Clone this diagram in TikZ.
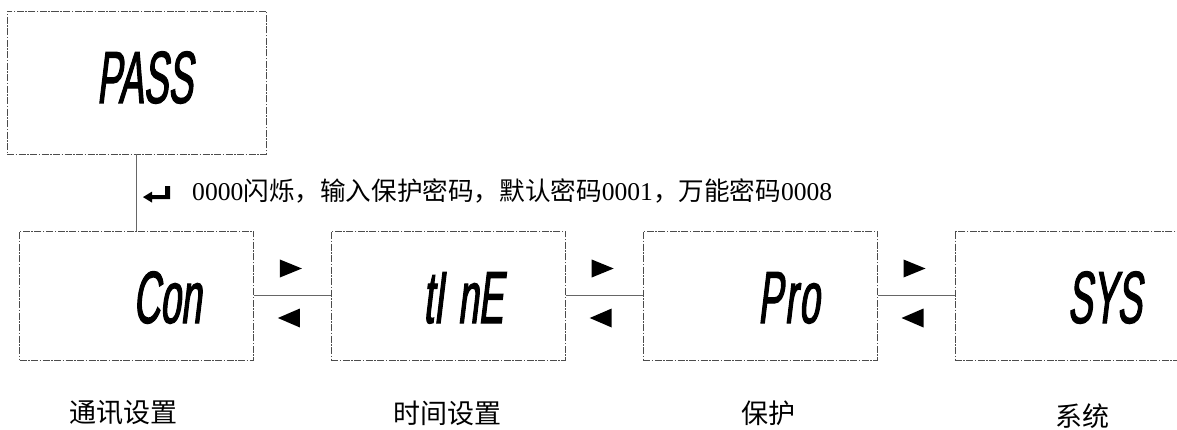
\documentclass[tikz,border=0pt]{standalone}
\usepackage{fontspec}
\setmainfont{Liberation Serif}
\newfontfamily\cjk{Noto Sans CJK SC}
\newfontfamily\segfont{Liberation Sans}[FakeStretch=0.5,FakeSlant=0.12,FakeBold=1.5]
\usetikzlibrary{positioning}

\begin{document}
\begin{tikzpicture}[x=1pt,y=-1pt,node distance=77pt,
    menu box/.style={draw=black!70,line width=0.8pt,
      dash pattern=on 7pt off 1.5pt on 1.5pt off 1.5pt,
      minimum width=234pt,minimum height=129pt,inner sep=0pt},
    seg text/.style={font=\segfont\fontsize{74}{74}\selectfont,
      inner sep=0pt,anchor=base west},
    menu label/.style={font=\cjk\fontsize{27}{27}\selectfont,inner sep=0pt},
    link/.style={draw=black!60,line width=1pt}]
  \useasboundingbox (0,0) rectangle (1177,430);

  \node[menu box,minimum width=259pt,minimum height=143pt] (pass) at (136.5,82.5) {};
  \node[menu box] (con) at (136.5,295.5) {};
  \node[menu box] (tim) [right=of con] {};
  \node[menu box] (pro) [right=of tim] {};
  \node[menu box] (sys) [right=of pro] {};

  % display texts
  \node[seg text] (passtxt) at ([shift={(90,20.5)}]pass.west) {PASS};
  \node[seg text] (contxt) at ([shift={(114,27.5)}]con.west) {Con};
  \node[seg text] (timtxt) at ([shift={(92,27.5)}]tim.west) {tI\kern14pt nE};
  \node[seg text] (protxt) at ([shift={(115,27.5)}]pro.west) {P\kern2pt r\kern2pt o};
  \node[seg text] (systxt) at ([shift={(113,27.5)}]sys.west) {SYS};

  % menu names
  \node[menu label] (conlab) at ([shift={(-13.5,52)}]con.south) {通讯设置};
  \node[menu label] (timlab) at ([shift={(-1,53)}]tim.south) {时间设置};
  \node[menu label] (prolab) at ([shift={(8,53)}]pro.south) {保护};
  \node[menu label] (syslab) at ([shift={(11,56)}]sys.south) {系统};

  % password entry
  \draw[link] (pass) -- (con);
  \node[inner sep=0pt,anchor=west,font=\fontsize{25.6}{26}\selectfont] (pwnote)
    at ([shift={(55.5,-40)}]con.north)
    {0000{\cjk 闪烁，输入保护密码，默认密码}0001{\cjk ，万能密码}0008};
  \fill ([shift={(-49,6.5)}]pwnote.west) -- ++(9,-5.5) -- ++(0,3.5) -- ++(13,0)
    -- ++(0,-9) -- ++(5,0) -- ++(0,13) -- ++(-18,0) -- ++(0,3.5) -- cycle;

  % left/right keys between menus
  \foreach \a/\b in {con/tim,tim/pro,pro/sys} {
    \draw[link] (\a) -- (\b);
    \path (\a.east) -- (\b.west) coordinate[midway] (m\a);
    \fill ([shift={(-12.5,-36)}]m\a) -- ++(22,9) -- ++(-22,9) -- cycle;
    \fill ([shift={(7.5,13)}]m\a) -- ++(-22,9.5) -- ++(22,9.5) -- cycle;
  }
\end{tikzpicture}
\end{document}
